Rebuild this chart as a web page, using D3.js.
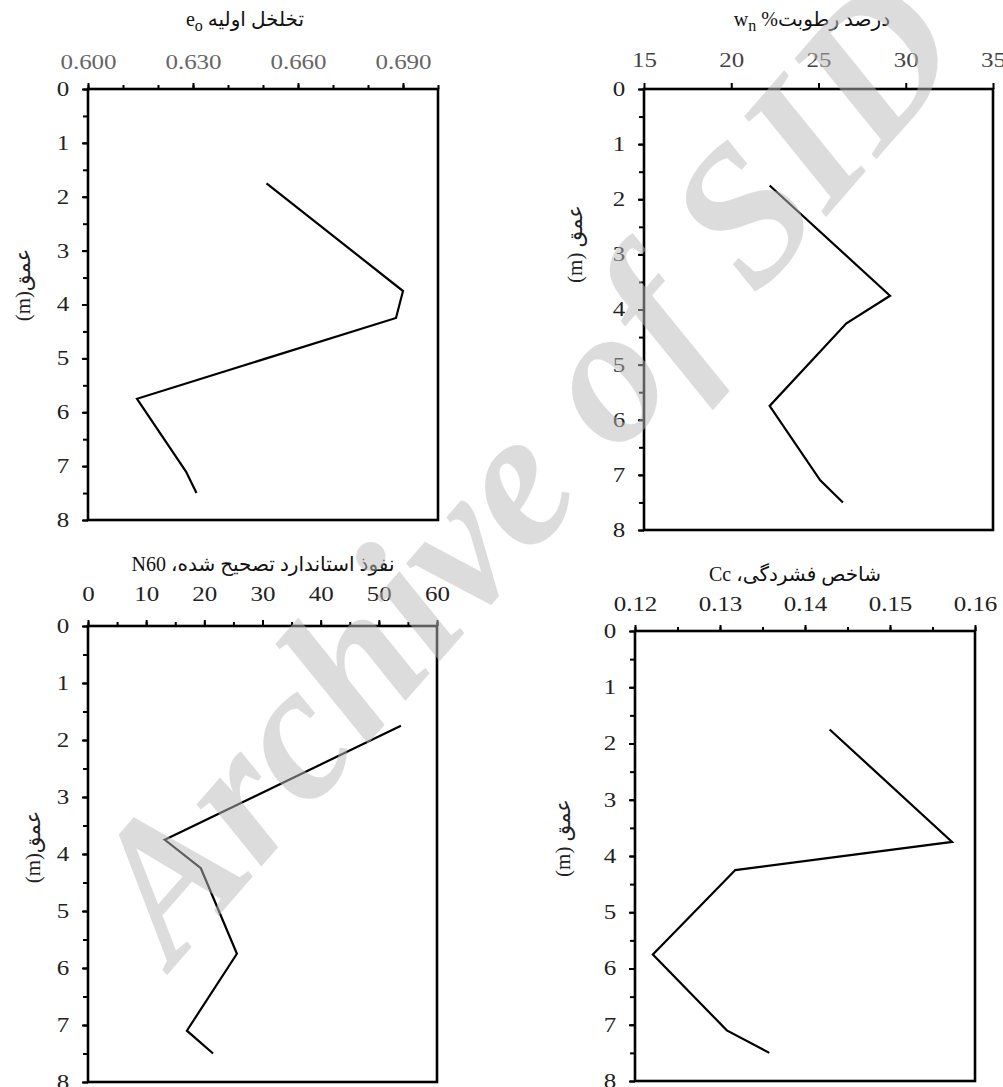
<!DOCTYPE html>
<html><head><meta charset="utf-8">
<script src="https://cdn.jsdelivr.net/npm/d3@7"></script>
<style>body{margin:0;background:#fff} svg{display:block}</style>
</head><body>
<svg id="c" width="1003" height="1087"></svg>
<script>
// ---- data ----
const depths = [1.75, 3.75, 4.25, 5.75, 7.1, 7.5];
const e0Values = [0.651, 0.690, 0.688, 0.614, 0.628, 0.631];
const wnValues = [22.2, 29.1, 26.6, 22.2, 25.1, 26.4];
const n60Values = [53.8, 13.2, 19.4, 25.6, 17.0, 21.5];
const ccValues = [0.1429, 0.1573, 0.1318, 0.1221, 0.1308, 0.1358];
const depthTicks = [0, 1, 2, 3, 4, 5, 6, 7, 8];
const e0Ticks = [0.600, 0.630, 0.660, 0.690];
const wnTicks = [15, 20, 25, 30, 35];
const n60Ticks = [0, 10, 20, 30, 40, 50, 60];
const ccTicks = [0.12, 0.13, 0.14, 0.15, 0.16];
const depthLabel = "عمق";
const e0Title = [["تخلخل اولیه e", false], ["o", true]];
const wnTitle = [["درصد رطوبت%  w", false], ["n", true]];
const n60Title = [["نفوذ استاندارد تصحیح شده، N60", false]];
const ccTitle = [["شاخص فشردگی، Cc", false]];

// ---- layout ----
const panels = [
  {values: e0Values, ticks: e0Ticks, domain: [0.6, 0.7], minor: 10, fmt: ".3f", box: [88, 89, 438, 520],
   title: e0Title, tpos: [245, 26], ypos: [23, 285], ysep: "", labelPad: 14, labelColor: "#666"},
  {values: wnValues, ticks: wnTicks, domain: [15, 35], minor: 0, fmt: "d", box: [644, 89, 993, 530],
   title: wnTitle, tpos: [812, 26], ypos: [575, 244], ysep: " ", labelPad: 16, labelColor: "#444"},
  {values: n60Values, ticks: n60Ticks, domain: [0, 60], minor: 12, fmt: "d", box: [88, 626, 437, 1082],
   title: n60Title, tpos: [263, 571], ypos: [33, 847], ysep: "", labelPad: 19, labelColor: "#222"},
  {values: ccValues, ticks: ccTicks, domain: [0.12, 0.16], minor: 8, fmt: ".2f", box: [635, 631, 975, 1081],
   title: ccTitle, tpos: [795, 581], ypos: [563, 838], ysep: " ", labelPad: 14, labelColor: "#222"}
];

const svg = d3.select("#c");
const SX = 1.25;

function styleText(sel, color) {
  sel.selectAll("text")
    .attr("font-family", "Liberation Serif, Times New Roman, serif")
    .attr("font-size", 20)
    .attr("fill", color)
    .attr("transform", `scale(${SX},1)`);
}

panels.forEach(p => {
  const [x0, y0, x1, y1] = p.box;
  const x = d3.scaleLinear().domain(p.domain).range([x0, x1]);
  const y = d3.scaleLinear().domain([0, 8]).range([y0, y1]);
  const g = svg.append("g").attr("color", "#000");

  if (p.minor) {
    g.append("g").attr("transform", `translate(0,${y0})`)
      .call(d3.axisTop(x).tickValues(x.ticks(p.minor)).tickSize(4).tickFormat(""));
  }
  const top = g.append("g").attr("transform", `translate(0,${y0})`)
    .call(d3.axisTop(x).tickValues(p.ticks).tickSize(6).tickPadding(p.labelPad).tickFormat(d3.format(p.fmt)));
  styleText(top, p.labelColor);

  g.append("g").attr("transform", `translate(${x0},0)`)
    .call(d3.axisLeft(y).tickValues(y.ticks(16)).tickSize(5).tickFormat(""));
  const left = g.append("g").attr("transform", `translate(${x0},0)`)
    .call(d3.axisLeft(y).tickValues(depthTicks).tickSize(6).tickPadding(9).tickFormat(d3.format("d")));
  styleText(left, "#222");

  g.selectAll(".domain").remove();
  g.selectAll(".tick line").attr("stroke-width", 2);

  g.append("rect").attr("x", x0).attr("y", y0).attr("width", x1 - x0).attr("height", y1 - y0)
    .attr("fill", "none").attr("stroke", "#000").attr("stroke-width", 2.6);

  const pts = depths.map((d, i) => ({d, v: p.values[i]}));
  g.append("path").datum(pts)
    .attr("fill", "none").attr("stroke", "#000").attr("stroke-width", 2.2)
    .attr("d", d3.line().x(q => x(q.v)).y(q => y(q.d)));

  // title
  const t = g.append("text").attr("x", p.tpos[0]).attr("y", p.tpos[1])
    .attr("direction", "rtl").attr("text-anchor", "middle")
    .attr("font-family", "Liberation Serif, DejaVu Sans, serif").attr("font-size", 20).attr("fill", "#111");
  p.title.forEach(([s, sub]) => {
    const ts = t.append("tspan").text(s);
    if (sub) ts.attr("baseline-shift", -5).attr("font-size", 16);
  });

  // y axis title
  g.append("text")
    .attr("transform", `translate(${p.ypos[0]},${p.ypos[1]}) rotate(-90)`)
    .attr("text-anchor", "middle").attr("dy", "0.35em")
    .attr("font-family", "Liberation Serif, DejaVu Sans, serif").attr("font-size", 21).attr("fill", "#222")
    .text("(m)" + p.ysep + depthLabel);
});

// watermark
svg.append("text")
  .attr("transform", "translate(520,465) rotate(-49)")
  .attr("text-anchor", "middle").attr("dy", "0.35em")
  .attr("font-family", "Liberation Serif, serif").attr("font-style", "italic").attr("font-weight", "bold")
  .attr("font-size", 195).attr("fill", "#bbb").attr("opacity", 0.5)
  .text("Archive of SID");
</script>
</body></html>
